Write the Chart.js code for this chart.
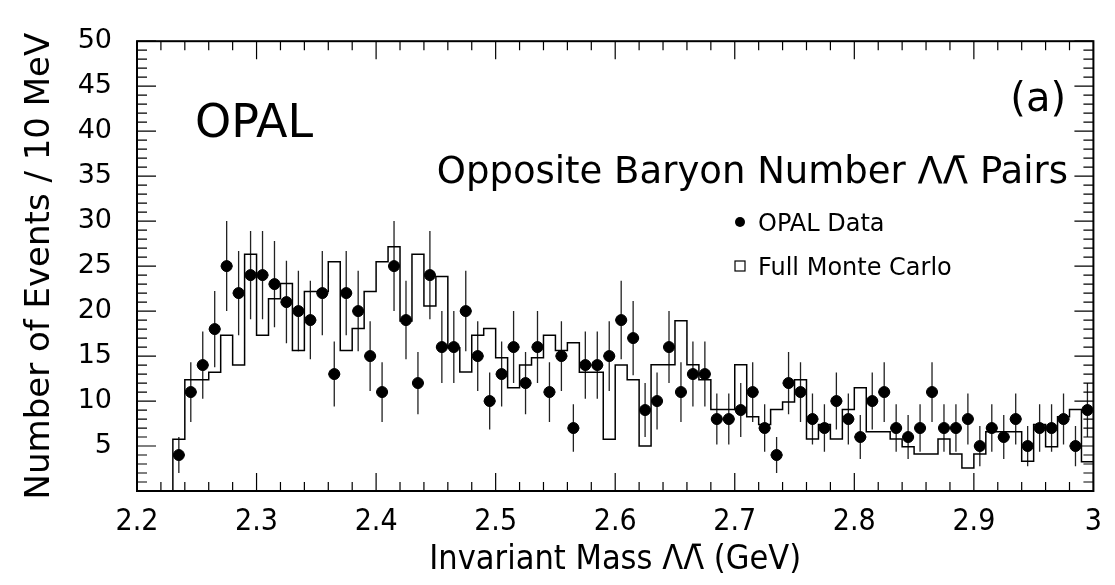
<!DOCTYPE html>
<html>
<head>
<meta charset="utf-8">
<script src="https://cdn.jsdelivr.net/npm/chart.js@4/dist/chart.umd.min.js"></script>
<style>
  html, body { margin: 0; padding: 0; background: #fff; }
  #wrap { width: 1115px; height: 585px; }
</style>
</head>
<body>
<div id="wrap"><canvas id="myChart"></canvas></div>
<script>
// Histogram binning: 10 MeV bins starting at 2.23 GeV
const binStart = 2.23;
const binWidth = 0.01;

// OPAL data, events per bin (bin centres 2.235 ... 2.995)
const dataCounts = [
  4, 11, 14, 18, 25, 22, 24, 24, 23, 21, 20, 19, 22, 13, 22, 20, 15, 11,
  25, 19, 12, 24, 16, 16, 20, 15, 10, 13, 16, 12, 16, 11, 15, 7, 14, 14, 15,
  19, 17, 9, 10, 16, 11, 13, 13, 8, 8, 9, 11, 7, 4, 12, 11, 8, 7, 10, 8,
  6, 10, 11, 7, 6, 7, 11, 7, 7, 8, 5, 7, 6, 8, 5, 7, 7, 8, 5, 9
];

// Full Monte Carlo, same bins (normalised)
const mcCounts = [
  5.74, 12.37, 12.37, 13.19, 17.3, 14.0, 26.33, 17.3, 21.37, 23.07, 15.63,
  22.19, 22.19, 25.48, 15.63, 18.07, 22.19, 25.48, 27.15, 18.9, 26.33, 20.56,
  23.85, 15.93, 13.22, 17.3, 18.07, 14.81, 11.48, 14.0, 14.81, 17.3, 15.63,
  16.48, 13.19, 13.19, 5.74, 14.0, 12.37, 5.0, 14.04, 14.04, 18.93, 14.04,
  12.37, 9.07, 9.07, 14.04, 8.26, 7.4, 9.07, 9.89, 12.37, 5.78, 7.4, 5.78,
  9.07, 11.48, 6.59, 6.59, 5.78, 4.93, 4.11, 4.11, 5.78, 4.11, 2.56, 4.11,
  6.59, 6.59, 6.59, 3.3, 7.4, 4.93, 8.26, 9.07, 3.26
];

// axis ticks and labels
const xTickValues = [2.2, 2.3, 2.4, 2.5, 2.6, 2.7, 2.8, 2.9, 3.0];
const xTickLabels = ["2.2", "2.3", "2.4", "2.5", "2.6", "2.7", "2.8", "2.9", "3"];
const yTickValues = [5, 10, 15, 20, 25, 30, 35, 40, 45, 50];

const narrow = "'Liberation Sans Narrow', 'DejaVu Sans Condensed', sans-serif";
const wide = "'DejaVu Sans', sans-serif";

const dataPoints = dataCounts.map((n, i) => ({ x: binStart + binWidth * (i + 0.5), y: n }));

// step line: start at zero on the first edge, one point per bin low edge, close at the last edge
const mcPoints = [{ x: binStart, y: 0 }];
mcCounts.forEach((v, i) => mcPoints.push({ x: binStart + binWidth * i, y: v }));
mcPoints.push({ x: binStart + binWidth * mcCounts.length, y: mcCounts[mcCounts.length - 1] });

// sqrt(N) error bars on the data
const errorBars = {
  id: "errorBars",
  beforeDatasetsDraw(chart) {
    const { ctx, scales: { x, y } } = chart;
    ctx.save();
    ctx.strokeStyle = "#222";
    ctx.lineWidth = 1.3;
    dataPoints.forEach(p => {
      const err = Math.sqrt(p.y);
      const px = x.getPixelForValue(p.x);
      ctx.beginPath();
      ctx.moveTo(px, y.getPixelForValue(p.y - err));
      ctx.lineTo(px, y.getPixelForValue(p.y + err));
      ctx.moveTo(x.getPixelForValue(p.x - binWidth / 2), y.getPixelForValue(p.y));
      ctx.lineTo(x.getPixelForValue(p.x + binWidth / 2), y.getPixelForValue(p.y));
      ctx.stroke();
    });
    ctx.restore();
  }
};

// frame with inward ticks on all four sides, plus the labels inside the plot
const frameAndText = {
  id: "frameAndText",
  afterDraw(chart) {
    const { ctx, chartArea: a, scales: { x, y } } = chart;
    ctx.save();
    ctx.strokeStyle = "#000";
    ctx.lineWidth = 1.2;
    ctx.beginPath();
    for (let k = 0; k <= 40; k++) {
      const px = x.getPixelForValue(2.2 + 0.02 * k);
      const len = k % 5 === 0 ? 18 : 9;
      ctx.moveTo(px, a.bottom); ctx.lineTo(px, a.bottom - len);
      ctx.moveTo(px, a.top); ctx.lineTo(px, a.top + len);
    }
    for (let k = 0; k <= 50; k++) {
      const py = y.getPixelForValue(k);
      const len = k % 5 === 0 ? 19 : 10;
      ctx.moveTo(a.left, py); ctx.lineTo(a.left + len, py);
      ctx.moveTo(a.right, py); ctx.lineTo(a.right - len, py);
    }
    ctx.stroke();
    ctx.lineWidth = 2;
    ctx.strokeRect(a.left, a.top, a.right - a.left, a.bottom - a.top);

    ctx.fillStyle = "#000";
    ctx.textBaseline = "alphabetic";
    ctx.font = "46px " + wide;
    ctx.textAlign = "left";
    ctx.fillText("OPAL", 195, 137);
    ctx.font = "40px " + wide;
    ctx.textAlign = "right";
    ctx.fillText("(a)", 1066, 111);
    ctx.font = "37px " + wide;
    ctx.fillText("Opposite Baryon Number \u039B\u039B\u0304 Pairs", 1068, 183);

    // legend
    ctx.textAlign = "left";
    ctx.font = "24px " + wide;
    ctx.beginPath();
    ctx.arc(740, 222, 5, 0, Math.PI * 2);
    ctx.fill();
    ctx.fillText("OPAL Data", 758, 231);
    ctx.lineWidth = 1.2;
    ctx.strokeRect(735, 261, 10, 10);
    ctx.fillText("Full Monte Carlo", 758, 275);
    ctx.restore();
  }
};

const ctx = document.getElementById("myChart").getContext("2d");

const myChart = new Chart(ctx, {
  type: "scatter",
  data: {
    datasets: [
      {
        label: "OPAL Data",
        data: dataPoints,
        backgroundColor: "#000",
        borderColor: "#000",
        pointRadius: 5.5,
        pointHoverRadius: 5.5,
        showLine: false,
      },
      {
        label: "Full Monte Carlo",
        type: "line",
        data: mcPoints,
        borderColor: "#000",
        borderWidth: 1.5,
        pointRadius: 0,
        fill: false,
        stepped: "before",
      },
    ],
  },
  options: {
    responsive: true,
    maintainAspectRatio: false,
    animation: false,
    events: [],
    layout: { padding: { left: 0, top: 41, right: 17, bottom: 0 } },
    plugins: {
      legend: { display: false },
      tooltip: { enabled: false },
    },
    scales: {
      x: {
        type: "linear",
        min: 2.2,
        max: 3.0,
        grid: { display: false, drawTicks: false },
        border: { display: false },
        afterBuildTicks: s => { s.ticks = xTickValues.map(v => ({ value: v })); },
        afterFit: s => { s.height = 94; },
        ticks: {
          padding: 13,
          color: "#000",
          font: { family: narrow, size: 30 },
          callback: (v, i) => xTickLabels[i],
        },
        title: {
          display: true,
          text: "Invariant Mass \u039B\u039B\u0304 (GeV)",
          color: "#000",
          font: { family: narrow, size: 34 },
          padding: { top: 0, bottom: 4 },
        },
      },
      y: {
        min: 0,
        max: 50,
        grid: { display: false, drawTicks: false },
        border: { display: false },
        afterBuildTicks: s => { s.ticks = yTickValues.map(v => ({ value: v })); },
        afterFit: s => { s.width = 137; },
        ticks: {
          padding: 25,
          color: "#000",
          font: { family: wide, size: 27 },
          callback: v => String(v),
        },
        title: {
          display: true,
          text: "Number of Events / 10 MeV",
          color: "#000",
          font: { family: wide, size: 34 },
          padding: { top: 20, bottom: 0 },
        },
      },
    },
  },
  plugins: [errorBars, frameAndText],
});
</script>
</body>
</html>
